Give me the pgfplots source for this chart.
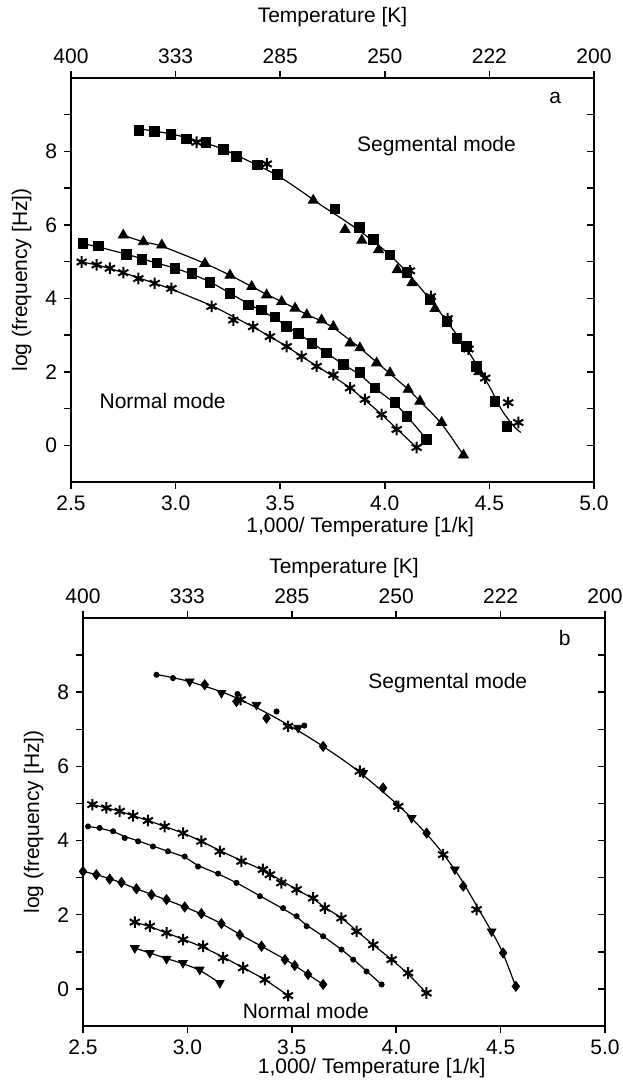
\documentclass[border=0pt]{standalone}
\usepackage{fontspec}
\setmainfont{Liberation Sans}
\usepackage{pgfplots}
\pgfplotsset{compat=1.18}
\tikzset{txt/.style={font=\fontsize{10.5}{12}\selectfont}}
\pgfplotsset{
  base/.style={scale only axis, width=261.5pt, height=202pt,
    xmin=2.5, xmax=5, ymin=-1, ymax=10,
    axis line style={line width=0.75pt},
    every tick/.style={line width=0.75pt, black},
    major tick length=3.5pt,
    tick label style={font=\fontsize{10.5}{12}\selectfont},
    label style={font=\fontsize{10.5}{12}\selectfont},
    /pgf/number format/assume math mode=true},
  dataax/.style={base, xtick={2.5,3,3.5,4,4.5,5}, xticklabels={2.5,3.0,3.5,4.0,4.5,5.0},
    ytick={0,1,...,9}, yticklabels={0,,2,,4,,6,,8,},
    xtick pos=bottom, ytick pos=left, tick align=outside,
    xlabel={1,000/ Temperature [1/k]}, ylabel={log (frequency [Hz])}},
  topax/.style={base, xtick={2.5,3,3.5,4,4.5,5}, xticklabels={400,333,285,250,222,200},
    xtick pos=top, xticklabel pos=top, tick align=outside, ytick=\empty,
    xlabel={Temperature [K]}},
  rightax/.style={base, xtick=\empty, ytick={0,1,...,9}, yticklabels={}, ytick pos=right, tick align=inside},
  fit/.style={black, line width=0.6pt, no marks},
  sq/.style={only marks, mark=square*, mark size=2.4pt, black},
  tri/.style={only marks, mark=triangle*, mark size=2.9pt, black},
  st/.style={only marks, mark=asterisk, mark size=2.9pt, black, mark options={line width=1pt}},
  dtri/.style={only marks, mark=triangle*, mark size=2.5pt, black, mark options={rotate=180}},
  dia/.style={only marks, mark=diamond*, mark size=2.5pt, black},
  cir/.style={only marks, mark=*, mark size=1.3pt, black},
}
\begin{document}
\begin{tikzpicture}
\path[use as bounding box] (0,0) rectangle (311pt,-540pt);
% ---------------- panel a ----------------
\begin{axis}[topax, at={(35.5pt,-241pt)}, anchor=south west,
  xlabel style={at={(rel axis cs:0.5,1)}, anchor=center, yshift=30.5pt}]
\end{axis}
\begin{axis}[rightax, at={(35.5pt,-241pt)}, anchor=south west]
\end{axis}
\begin{axis}[dataax, at={(35.5pt,-241pt)}, anchor=south west,
  xlabel style={at={(rel axis cs:0.553,0)}, anchor=center, yshift=-22.5pt}]
% segmental fit
\addplot[fit, smooth] coordinates {(2.82,8.62) (3.0,8.45) (3.2,8.12) (3.4,7.6) (3.5,7.3) (3.6,6.92) (3.7,6.52) (3.8,6.15) (3.9,5.75) (4.0,5.3) (4.1,4.75) (4.2,4.08) (4.3,3.35) (4.4,2.55) (4.5,1.6) (4.56,0.95) (4.62,0.5) (4.65,0.35)};
\addplot[sq] coordinates {(2.825,8.58) (2.90,8.54) (2.978,8.47) (3.053,8.34) (3.144,8.25) (3.228,8.05) (3.292,7.86) (3.39,7.63) (3.486,7.37) (3.762,6.44) (3.878,5.94) (3.945,5.60) (4.025,5.18) (4.105,4.70) (4.216,3.96) (4.296,3.37) (4.344,2.92) (4.39,2.69) (4.439,2.15) (4.527,1.20) (4.583,0.52)};
\addplot[tri] coordinates {(3.658,6.67) (3.81,5.87) (3.89,5.58) (3.97,5.32) (4.06,4.78) (4.13,4.42) (4.24,3.72) (4.35,2.85) (4.45,2.0)};
\addplot[st] coordinates {(3.10,8.25) (3.436,7.66) (4.12,4.75) (4.22,4.05) (4.3,3.45) (4.40,2.62) (4.48,1.83) (4.59,1.16) (4.638,0.62)};
% normal mode
\addplot[fit, smooth] coordinates {(2.75,5.72) (2.846,5.54) (2.934,5.42) (3.14,4.95) (3.26,4.63) (3.364,4.32) (3.435,4.11) (3.507,3.91) (3.571,3.73) (3.627,3.56) (3.698,3.38) (3.754,3.2) (3.834,2.86) (3.881,2.65) (3.961,2.26) (4.025,1.95) (4.112,1.52) (4.168,1.20) (4.272,0.58) (4.376,-0.27)};
\addplot[tri] coordinates {(2.75,5.72) (2.846,5.54) (2.934,5.45) (3.14,4.95) (3.26,4.63) (3.364,4.32) (3.435,4.09) (3.507,3.91) (3.571,3.73) (3.627,3.55) (3.698,3.41) (3.754,3.23) (3.834,2.78) (3.881,2.65) (3.961,2.24) (4.025,1.97) (4.112,1.52) (4.168,1.20) (4.272,0.62) (4.376,-0.27)};
\addplot[fit, smooth] coordinates {(2.556,5.49) (2.63,5.40) (2.766,5.20) (2.838,5.08) (2.91,4.96) (2.997,4.82) (3.077,4.66) (3.164,4.45) (3.26,4.14) (3.348,3.85) (3.411,3.66) (3.475,3.46) (3.531,3.25) (3.587,3.04) (3.651,2.79) (3.722,2.51) (3.802,2.20) (3.881,1.92) (3.953,1.56) (4.049,1.13) (4.105,0.80) (4.20,0.16)};
\addplot[sq] coordinates {(2.556,5.49) (2.63,5.43) (2.766,5.20) (2.838,5.06) (2.91,4.97) (2.997,4.82) (3.077,4.68) (3.164,4.43) (3.26,4.14) (3.348,3.82) (3.411,3.69) (3.475,3.49) (3.531,3.23) (3.587,3.04) (3.651,2.78) (3.722,2.51) (3.802,2.20) (3.881,1.99) (3.953,1.56) (4.049,1.16) (4.105,0.79) (4.20,0.16)};
\addplot[fit, smooth] coordinates {(2.551,4.99) (2.623,4.91) (2.686,4.81) (2.75,4.70) (2.822,4.56) (2.90,4.41) (2.98,4.25) (3.172,3.80) (3.276,3.50) (3.371,3.22) (3.451,2.96) (3.531,2.69) (3.603,2.42) (3.674,2.16) (3.754,1.87) (3.834,1.56) (3.905,1.23) (3.985,0.84) (4.057,0.45) (4.152,-0.06)};
\addplot[st] coordinates {(2.551,4.99) (2.623,4.91) (2.686,4.82) (2.75,4.70) (2.822,4.54) (2.90,4.41) (2.98,4.27) (3.172,3.78) (3.276,3.41) (3.371,3.23) (3.451,2.96) (3.531,2.69) (3.603,2.42) (3.674,2.15) (3.754,1.92) (3.834,1.56) (3.905,1.25) (3.985,0.84) (4.057,0.43) (4.152,-0.06)};
\node[txt] at (axis cs:4.247,8.16) {Segmental mode};
\node[txt] at (axis cs:2.938,1.20) {Normal mode};
\node[txt] at (axis cs:4.814,9.47) {a};
\end{axis}
% ---------------- panel b ----------------
\begin{axis}[topax, at={(41.5pt,-513pt)}, anchor=south west, width=261pt, height=204pt,
  xlabel style={at={(rel axis cs:0.5,1)}, anchor=center, yshift=25pt}]
\end{axis}
\begin{axis}[rightax, at={(41.5pt,-513pt)}, anchor=south west, width=261pt, height=204pt]
\end{axis}
\begin{axis}[dataax, at={(41.5pt,-513pt)}, anchor=south west, width=261pt, height=204pt,
  xlabel style={at={(rel axis cs:0.553,0)}, anchor=center, yshift=-21pt}]
\addplot[fit, smooth] coordinates {(2.85,8.48) (3.0,8.3) (3.2,7.93) (3.4,7.38) (3.6,6.72) (3.8,5.95) (4.0,5.0) (4.1,4.45) (4.2,3.82) (4.3,3.05) (4.4,2.1) (4.5,1.1) (4.57,0.1)};
\addplot[cir] coordinates {(2.852,8.47) (2.931,8.38) (3.24,7.95) (3.427,7.48) (3.56,7.1) (4.0,5.0)};
\addplot[dtri] coordinates {(3.011,8.29) (3.163,7.98) (3.331,7.66) (3.53,7.04) (3.842,5.82) (4.074,4.61) (4.281,3.22) (4.457,1.55)};
\addplot[dia] coordinates {(3.083,8.20) (3.235,7.75) (3.379,7.30) (3.65,6.54) (3.937,5.42) (4.146,4.20) (4.321,2.77) (4.512,0.97) (4.573,0.07)};
\addplot[st] coordinates {(3.255,7.80) (3.482,7.08) (3.826,5.87) (4.01,4.92) (4.225,3.62) (4.385,2.14)};
% normal modes
\addplot[fit, smooth] coordinates {(2.545,4.97) (2.612,4.88) (2.676,4.79) (2.74,4.67) (2.811,4.54) (2.891,4.38) (2.979,4.20) (3.067,3.98) (3.155,3.73) (3.259,3.46) (3.362,3.20) (3.45,2.92) (3.523,2.68) (3.602,2.43) (3.658,2.20) (3.738,1.91) (3.81,1.57) (3.89,1.19) (3.978,0.79) (4.057,0.40) (4.145,-0.11)};
\addplot[st] coordinates {(2.545,4.97) (2.612,4.88) (2.676,4.79) (2.74,4.67) (2.811,4.54) (2.891,4.38) (2.979,4.20) (3.067,3.98) (3.155,3.71) (3.259,3.44) (3.362,3.22) (3.395,3.08) (3.45,2.86) (3.523,2.68) (3.602,2.45) (3.658,2.18) (3.738,1.91) (3.81,1.55) (3.89,1.19) (3.978,0.79) (4.057,0.43) (4.145,-0.11)};
\addplot[fit, smooth] coordinates {(2.524,4.38) (2.58,4.33) (2.644,4.24) (2.70,4.11) (2.764,3.99) (2.835,3.85) (2.907,3.71) (2.987,3.55) (3.051,3.33) (3.147,3.10) (3.235,2.86) (3.347,2.51) (3.458,2.16) (3.523,1.94) (3.571,1.72) (3.65,1.42) (3.738,1.06) (3.794,0.80) (3.858,0.48) (3.93,0.12)};
\addplot[cir] coordinates {(2.524,4.38) (2.58,4.34) (2.644,4.25) (2.70,4.07) (2.764,3.98) (2.835,3.84) (2.907,3.71) (2.987,3.57) (3.051,3.30) (3.147,3.11) (3.235,2.86) (3.347,2.50) (3.458,2.18) (3.523,1.96) (3.571,1.69) (3.65,1.42) (3.738,1.06) (3.794,0.79) (3.858,0.47) (3.93,0.12)};
\addplot[fit, smooth] coordinates {(2.50,3.17) (2.564,3.08) (2.628,2.97) (2.684,2.86) (2.756,2.70) (2.828,2.55) (2.90,2.40) (2.987,2.21) (3.067,2.02) (3.163,1.76) (3.251,1.47) (3.355,1.15) (3.467,0.80) (3.514,0.63) (3.578,0.39) (3.65,0.12)};
\addplot[dia] coordinates {(2.50,3.17) (2.564,3.08) (2.628,2.96) (2.684,2.87) (2.756,2.70) (2.828,2.54) (2.90,2.41) (2.987,2.21) (3.067,2.03) (3.163,1.76) (3.251,1.46) (3.355,1.15) (3.467,0.79) (3.514,0.63) (3.578,0.39) (3.65,0.12)};
\addplot[fit, smooth] coordinates {(2.748,1.80) (2.82,1.68) (2.90,1.51) (2.979,1.34) (3.075,1.12) (3.171,0.86) (3.267,0.57) (3.371,0.25) (3.482,-0.18)};
\addplot[st] coordinates {(2.748,1.80) (2.82,1.69) (2.90,1.51) (2.979,1.33) (3.075,1.15) (3.171,0.84) (3.267,0.57) (3.371,0.25) (3.482,-0.18)};
\addplot[fit, smooth] coordinates {(2.748,1.10) (2.82,0.97) (2.90,0.82) (2.979,0.68) (3.059,0.50) (3.155,0.16)};
\addplot[dtri] coordinates {(2.748,1.10) (2.82,0.97) (2.90,0.81) (2.979,0.70) (3.059,0.52) (3.155,0.16)};
\node[txt] at (axis cs:4.247,8.25) {Segmental mode};
\node[txt] at (axis cs:3.567,-0.60) {Normal mode};
\node[txt] at (axis cs:4.807,9.45) {b};
\end{axis}
\end{tikzpicture}
\end{document}
